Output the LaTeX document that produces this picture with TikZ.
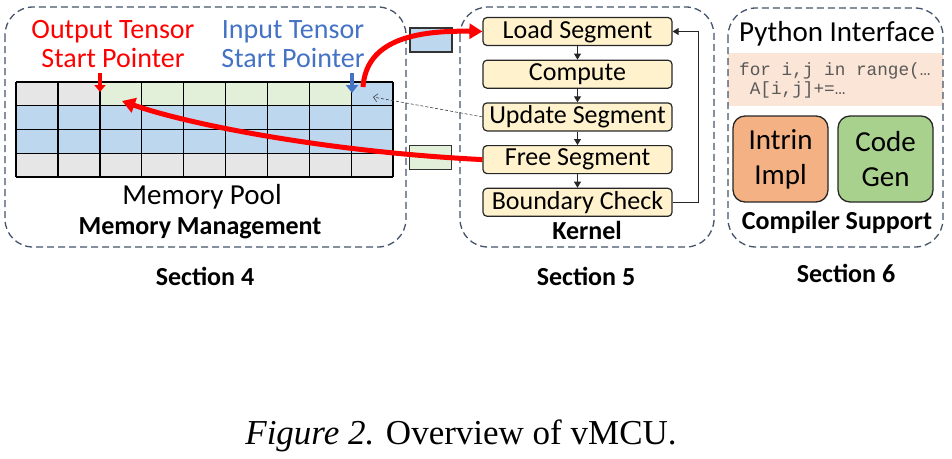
\documentclass[tikz,border=0pt]{standalone}
\usepackage{fontspec}
\setmainfont{Carlito}
\setmonofont{Liberation Mono}
\newfontfamily\capfont{Liberation Serif}
\usetikzlibrary{arrows.meta, positioning}

\definecolor{memgray}{HTML}{E7E6E6}
\definecolor{memgreen}{HTML}{E2F0D9}
\definecolor{memblue}{HTML}{BDD7EE}
\definecolor{segyellow}{HTML}{FFF2CC}
\definecolor{frameblue}{HTML}{44546A}
\definecolor{ptrblue}{HTML}{4472C4}
\definecolor{codepeach}{HTML}{FBE5D6}
\definecolor{intrinorange}{HTML}{F4B183}
\definecolor{gengreen}{HTML}{A9D18E}

\tikzset{
  section/.style={draw=frameblue, line width=1.3pt, dash pattern=on 7pt off 4pt, rounded corners=28pt},
  segbox/.style={draw=black!85, fill=segyellow, line width=1.2pt, rounded corners=4pt,
    minimum width=189pt, minimum height=28pt, inner sep=0pt, font=\fontsize{26}{28}\selectfont},
  blockbox/.style={draw=black!85, line width=1.3pt, rounded corners=12pt, align=center,
    minimum width=95pt, minimum height=86pt, inner sep=0pt, font=\fontsize{29}{35}\selectfont},
  bufbox/.style={draw=black!80, line width=1.5pt, minimum width=42pt, minimum height=24pt, inner sep=0pt},
  flow/.style={-{Triangle[length=6pt,width=7pt]}, line width=0.9pt, black!85},
  bigred/.style={-{Triangle[length=13pt,width=15pt]}, line width=5pt, red},
  label/.style={align=center, inner sep=0pt, font=\fontsize{28}{29}\selectfont},
  title/.style={inner sep=0pt, font=\bfseries\fontsize{26}{28}\selectfont}
}

\begin{document}
\begin{tikzpicture}[x=1pt, y=-1pt]
  \useasboundingbox (0,0) rectangle (952,458);

  % memory pool
  \fill[memgray] (16,82) rectangle (393,177);
  \fill[memblue] (16,105.75) rectangle (393,153.25);
  \fill[memgreen] (99.8,82) rectangle (351.1,105.75);
  \fill[memblue] (351.1,82) rectangle (393,105.75);
  \foreach \i in {0,...,9}
    \draw[line width=1.4pt] ({16+\i*41.9},82) -- ++(0,95);
  \foreach \j in {0,...,4}
    \draw[line width=1.4pt] (16,{82+\j*23.75}) -- ++(377,0);

  \coordinate (outtop) at (100,73);
  \coordinate (outptr) at (100,92);
  \coordinate (intop) at (352,73);
  \coordinate (inptr) at (352,93);
  \coordinate (inhook) at (363,87);
  \coordinate (incell) at (373,97);
  \coordinate (outcell) at (122,101);

  \node[label, text=red] (outlbl) at (113,44) {Output Tensor\\Start Pointer};
  \node[label, text=ptrblue] (inlbl) at (293,44) {Input Tensor\\Start Pointer};
  \node[inner sep=0pt, font=\fontsize{29}{32}\selectfont] (pool) at (202,197) {Memory Pool};
  \node[title] (memmgmt) at (200,228) {Memory Management};

  \draw[-{Triangle[length=7pt,width=11pt]}, line width=3.5pt, red] (outtop) -- (outptr);
  \draw[-{Triangle[length=8pt,width=12pt]}, line width=4.5pt, ptrblue] (intop) -- (inptr);

  % buffers
  \node[bufbox, fill=memblue] (inbuf) at (431,40) {};
  \node[bufbox, fill=memgreen] (outbuf) at (430.5,157.5) {};

  % kernel
  \node[segbox] (load) at (577.5,31.5) {Load Segment};
  \node[segbox, below=13.5pt of load] (compute) {Compute};
  \node[segbox, below=13.5pt of compute] (update) {Update Segment};
  \node[segbox, below=13.5pt of update] (free) {Free Segment};
  \node[segbox, below=13.5pt of free] (check) {Boundary Check};
  \node[title] (kernel) at (587,230) {Kernel};

  \draw[flow] (load) -- (compute);
  \draw[flow] (compute) -- (update);
  \draw[flow] (update) -- (free);
  \draw[flow] (free) -- (check);
  \draw[flow] (check.east) -- ++(26,0) |- (load.east);

  % compiler support
  \fill[codepeach] (728,53) rectangle (943,106);
  \node[inner sep=0pt, font=\fontsize{29}{32}\selectfont] (pyif) at (837,34) {Python Interface};
  \node[anchor=west, align=left, inner sep=0pt, text=black!65,
    font=\ttfamily\fontsize{17.7}{19}\selectfont] (code) at (739,80) {for i,j in range(…\\~A[i,j]+=…};
  \node[blockbox, fill=intrinorange] (intrin) at (780.5,159) {Intrin\\Impl};
  \node[blockbox, fill=gengreen] (codegen) at (885.5,159) {Code\\Gen};
  \node[title] (compiler) at (837,222) {Compiler Support};

  % sections
  \draw[section] (5,7) rectangle (406,247);
  \draw[section] (460,7) rectangle (714,247);
  \draw[section] (728,8) rectangle (943,247);
  \node[title] (sec4) at (205,276) {Section 4};
  \node[title] (sec5) at (586,276) {Section 5};
  \node[title] (sec6) at (846,273) {Section 6};

  % links between memory and kernel
  \draw[densely dashed, -{Straight Barb[length=4pt,width=8pt]}, line width=0.6pt, black!75] (update.west) -- (incell);
  \draw[bigred] (inhook) .. controls (366,45) and (405,30) .. (load.west);
  \draw[bigred] (free.west) .. controls (330,152) and (190,125) .. (outcell);

  \node[inner sep=0pt, font=\capfont\fontsize{35}{38}\selectfont] (caption) at (461,436)
    {\textit{Figure 2.} Overview of vMCU.};
\end{tikzpicture}
\end{document}
